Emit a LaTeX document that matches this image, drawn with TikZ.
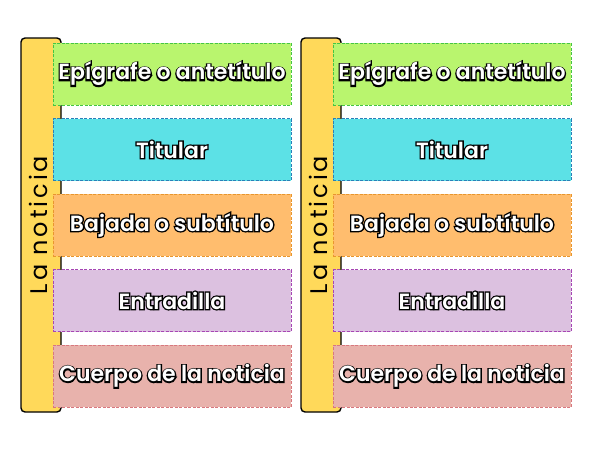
\documentclass[tikz,border=0pt]{standalone}
\usepackage{fontspec}
\setmainfont{Poppins}
\newfontfamily\barfont{Poppins}[LetterSpace=12]
\newfontfamily\boxfont{Poppins}[UprightFont=* SemiBold]
\newfontfamily\boxfontbg{Poppins}[UprightFont=* SemiBold, FakeBold=12]
\definecolor{cbar}{HTML}{FFD95A}
\definecolor{cgreen}{HTML}{B9F56E}
\definecolor{cgreenD}{HTML}{45C545}
\definecolor{ccyan}{HTML}{5CE1E6}
\definecolor{ccyanD}{HTML}{2A80B8}
\definecolor{corange}{HTML}{FFBD6E}
\definecolor{corangeD}{HTML}{E8962E}
\definecolor{cpurple}{HTML}{DCC1E0}
\definecolor{cpurpleD}{HTML}{A646B4}
\definecolor{cpink}{HTML}{E8B2AC}
\definecolor{cpinkD}{HTML}{D8787E}
\tikzset{
  barbox/.style={draw=black, line width=1.4pt, fill=cbar, rounded corners=4pt},
  partbox/.style={minimum width=238pt, minimum height=62pt, inner sep=0pt, dash pattern=on 3pt off 1.5pt, line width=0.8pt},
  parttext/.style={font=\boxfont\fontsize{22}{24}\selectfont, text=white, inner sep=0pt},
  partshadow/.style={font=\boxfontbg\fontsize{22}{24}\selectfont, text=black, inner sep=0pt},
  bartext/.style={font=\barfont\fontsize{24}{26}\selectfont, rotate=90, text=black}
}
\begin{document}
\begin{tikzpicture}[x=1pt,y=-1pt]
\useasboundingbox (0,0) rectangle (600,450);
\foreach \dx/\p in {0/a,280/b}{
  \draw[barbox] (21+\dx,38) rectangle (61+\dx,412);
  \node[bartext] (bar\p) at (38+\dx,225) {La noticia};
  \node[partbox, fill=cgreen, draw=cgreenD] (e\p) at (172+\dx,74) {};
  \node[partbox, fill=ccyan, draw=ccyanD] (t\p) at (172+\dx,149.5) {};
  \node[partbox, fill=corange, draw=corangeD] (s\p) at (172+\dx,225) {};
  \node[partbox, fill=cpurple, draw=cpurpleD] (n\p) at (172+\dx,300.5) {};
  \node[partbox, fill=cpink, draw=cpinkD] (c\p) at (172+\dx,376) {};
  \foreach \b/\t in {e/{Epígrafe o antetítulo}, t/{Titular}, s/{Bajada o subtítulo}, n/{Entradilla}, c/{Cuerpo de la noticia}}{
    \node[partshadow] at (\b\p) {\t};
    \node[parttext] at (\b\p) {\t};
  }
}
\end{tikzpicture}
\end{document}
